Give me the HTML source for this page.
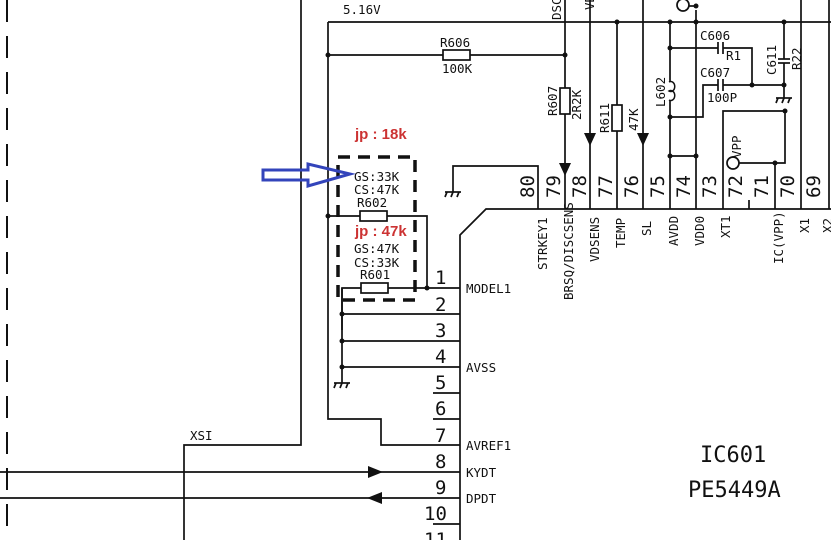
<!DOCTYPE html>
<html><head><meta charset="utf-8"><style>
html,body{margin:0;padding:0;background:#fff;width:831px;height:540px;overflow:hidden}
svg{display:block}
text{font-family:"DejaVu Sans Mono","Liberation Mono",monospace;fill:#111}
</style></head><body>
<svg width="831" height="540" viewBox="0 0 831 540" xmlns="http://www.w3.org/2000/svg">
<g stroke="#111" stroke-width="1.7" fill="none">
<line x1="7" y1="0" x2="7" y2="540" stroke-width="2" stroke-dasharray="22,14"/>
<polyline points="301,0 301,445 184,445 184,540"/>
<line x1="328" y1="22" x2="831" y2="22"/>
<polyline points="328,22 328,419 381,419 381,445 460,445"/>
<line x1="328" y1="55" x2="443" y2="55"/><rect x="443" y="50" width="27" height="10"/><line x1="470" y1="55" x2="565" y2="55"/>
<line x1="565" y1="0" x2="565" y2="88"/><rect x="560" y="88" width="10" height="26"/><line x1="565" y1="114" x2="565" y2="209"/>
<line x1="590" y1="0" x2="590" y2="209"/>
<line x1="617" y1="22" x2="617" y2="105"/><rect x="612" y="105" width="10" height="26"/><line x1="617" y1="131" x2="617" y2="209"/>
<line x1="643" y1="0" x2="643" y2="209"/>
<line x1="670" y1="22" x2="670" y2="209"/>
<line x1="696" y1="10" x2="696" y2="209"/>
<circle cx="683" cy="5" r="6"/><line x1="689" y1="6" x2="696" y2="6"/>
<line x1="670" y1="156" x2="696" y2="156"/>
<line x1="670" y1="48" x2="718" y2="48"/><line x1="718" y1="42" x2="718" y2="54"/><line x1="723" y1="42" x2="723" y2="54"/><polyline points="723,48 752,48 752,85"/>
<polyline points="670,117 703,117 703,85 718,85"/><line x1="718" y1="79" x2="718" y2="91"/><line x1="723" y1="79" x2="723" y2="91"/><line x1="723" y1="85" x2="784" y2="85"/>
<line x1="784" y1="22" x2="784" y2="59"/><line x1="778" y1="59" x2="790" y2="59"/><line x1="778" y1="63" x2="790" y2="63"/><line x1="784" y1="63" x2="784" y2="98"/>
<line x1="776" y1="98" x2="792" y2="98"/><line x1="778" y1="98" x2="776" y2="103"/><line x1="784" y1="98" x2="782" y2="103"/><line x1="790" y1="98" x2="788" y2="103"/>
<polyline points="723,209 723,111 785,111 785,163 775,163"/>
<line x1="775" y1="163" x2="775" y2="209"/><line x1="775" y1="163" x2="739" y2="163"/><circle cx="733" cy="163" r="6"/>
<line x1="749" y1="200" x2="749" y2="209"/>
<line x1="801" y1="0" x2="801" y2="209"/><line x1="829" y1="0" x2="829" y2="209"/>
<polyline points="538,209 538,166 453,166 453,192"/>
<line x1="445" y1="192" x2="461" y2="192"/><line x1="447" y1="192" x2="445" y2="197"/><line x1="453" y1="192" x2="451" y2="197"/><line x1="459" y1="192" x2="457" y2="197"/>
<polyline points="831,209 486,209 460,235 460,540"/>
<line x1="328" y1="216" x2="360" y2="216"/><rect x="360" y="211" width="27" height="10"/><polyline points="387,216 427,216 427,288"/>
<polyline points="342,330 342,288 361,288"/><rect x="361" y="283" width="27" height="10"/><line x1="388" y1="288" x2="460" y2="288"/>
<line x1="342" y1="288" x2="342" y2="383"/>
<line x1="334" y1="383" x2="350" y2="383"/><line x1="336" y1="383" x2="334" y2="388"/><line x1="342" y1="383" x2="340" y2="388"/><line x1="348" y1="383" x2="346" y2="388"/>
<line x1="342" y1="314" x2="460" y2="314"/><line x1="342" y1="341" x2="460" y2="341"/><line x1="342" y1="367" x2="460" y2="367"/>
<line x1="433" y1="393" x2="460" y2="393"/><line x1="433" y1="419" x2="460" y2="419"/><line x1="433" y1="524" x2="460" y2="524"/>
<line x1="0" y1="472" x2="460" y2="472"/><line x1="0" y1="498" x2="460" y2="498"/>
<rect x="338" y="157" width="77" height="143" stroke-width="3.5" stroke-dasharray="12,8"/>
</g>
<g fill="#111">
<circle cx="328" cy="55" r="2.5"/><circle cx="565" cy="55" r="2.5"/><circle cx="617" cy="22" r="2.5"/>
<circle cx="670" cy="22" r="2.5"/><circle cx="696" cy="22" r="2.5"/><circle cx="696" cy="6" r="2.5"/><circle cx="784" cy="22" r="2.5"/>
<circle cx="670" cy="48" r="2.5"/><circle cx="670" cy="117" r="2.5"/><circle cx="670" cy="156" r="2.5"/><circle cx="696" cy="156" r="2.5"/>
<circle cx="752" cy="85" r="2.5"/><circle cx="784" cy="85" r="2.5"/><circle cx="785" cy="111" r="2.5"/><circle cx="775" cy="163" r="2.5"/>
<circle cx="328" cy="216" r="2.5"/><circle cx="427" cy="288" r="2.5"/>
<circle cx="342" cy="314" r="2.5"/><circle cx="342" cy="341" r="2.5"/><circle cx="342" cy="367" r="2.5"/>
<polygon points="559,163 571,163 565,176"/><polygon points="584,133 596,133 590,146"/><polygon points="637,133 649,133 643,146"/>
<polygon points="368,466 368,478 383,472"/><polygon points="382,492 382,504 367,498"/>
</g>
<path d="M669,82 a4,5 0 1 1 0,9 a4,5 0 1 1 0,9" stroke="#111" stroke-width="1.5" fill="#fff"/>
<polygon points="263,170 308,170 308,164 350,174 308,186 308,180 263,180" fill="none" stroke="#3344bb" stroke-width="3"/>
<g font-size="12.5">
<text x="343" y="14">5.16V</text>
<text x="440" y="47">R606</text><text x="442" y="73">100K</text>
<text x="700" y="40">C606</text><text x="726" y="60">R1</text>
<text x="700" y="77">C607</text><text x="707" y="102">100P</text>
<text x="357" y="207">R602</text><text x="360" y="279">R601</text>
<text x="354" y="181">GS:33K</text><text x="354" y="194">CS:47K</text>
<text x="354" y="253">GS:47K</text><text x="354" y="267">CS:33K</text>
<text x="190" y="440">XSI</text>
<text x="466" y="293">MODEL1</text><text x="466" y="372">AVSS</text><text x="466" y="450">AVREF1</text>
<text x="466" y="477">KYDT</text><text x="466" y="503">DPDT</text>
</g>
<g font-size="12.5">
<text transform="translate(561,20) rotate(-90)">DSC</text>
<text transform="translate(594,10) rotate(-90)">VDS</text>
<text transform="translate(557,116) rotate(-90)">R607</text>
<text transform="translate(581,120) rotate(-90)">2R2K</text>
<text transform="translate(609,133) rotate(-90)">R611</text>
<text transform="translate(638,131) rotate(-90)">47K</text>
<text transform="translate(665,107) rotate(-90)">L602</text>
<text transform="translate(776,75) rotate(-90)">C611</text>
<text transform="translate(801,70) rotate(-90)">R22</text>
<text transform="translate(741,158) rotate(-90)">VPP</text>
<text transform="translate(547,270) rotate(-90)">STRKEY1</text>
<text transform="translate(573,300) rotate(-90)">BRSQ/DISCSENS</text>
<text transform="translate(599,262) rotate(-90)">VDSENS</text>
<text transform="translate(625,248) rotate(-90)">TEMP</text>
<text transform="translate(651,236) rotate(-90)">SL</text>
<text transform="translate(678,246) rotate(-90)">AVDD</text>
<text transform="translate(704,246) rotate(-90)">VDD0</text>
<text transform="translate(730,238) rotate(-90)">XT1</text>
<text transform="translate(783,264) rotate(-90)">IC(VPP)</text>
<text transform="translate(809,233) rotate(-90)">X1</text>
<text transform="translate(832,233) rotate(-90)">X2</text>
</g>
<g font-size="19">
<text transform="translate(534,198) rotate(-90)">80</text>
<text transform="translate(560,198) rotate(-90)">79</text>
<text transform="translate(586,198) rotate(-90)">78</text>
<text transform="translate(612,198) rotate(-90)">77</text>
<text transform="translate(638,198) rotate(-90)">76</text>
<text transform="translate(664,198) rotate(-90)">75</text>
<text transform="translate(690,198) rotate(-90)">74</text>
<text transform="translate(716,198) rotate(-90)">73</text>
<text transform="translate(742,198) rotate(-90)">72</text>
<text transform="translate(768,198) rotate(-90)">71</text>
<text transform="translate(794,198) rotate(-90)">70</text>
<text transform="translate(820,198) rotate(-90)">69</text>
<text x="435" y="284">1</text><text x="435" y="311">2</text><text x="435" y="337">3</text>
<text x="435" y="363">4</text><text x="435" y="389">5</text><text x="435" y="415">6</text>
<text x="435" y="442">7</text><text x="435" y="468">8</text><text x="435" y="494">9</text>
<text x="424" y="520">10</text><text x="424" y="546">11</text>
</g>
<text x="700" y="462" font-size="22">IC601</text>
<text x="688" y="497" font-size="22">PE5449A</text>
<text x="355" y="139" style="fill:#cc3333;font-family:'Liberation Sans',sans-serif;font-weight:bold;font-size:15px">jp : 18k</text>
<text x="355" y="236" style="fill:#cc3333;font-family:'Liberation Sans',sans-serif;font-weight:bold;font-size:15px">jp : 47k</text>
</svg>
</body></html>
